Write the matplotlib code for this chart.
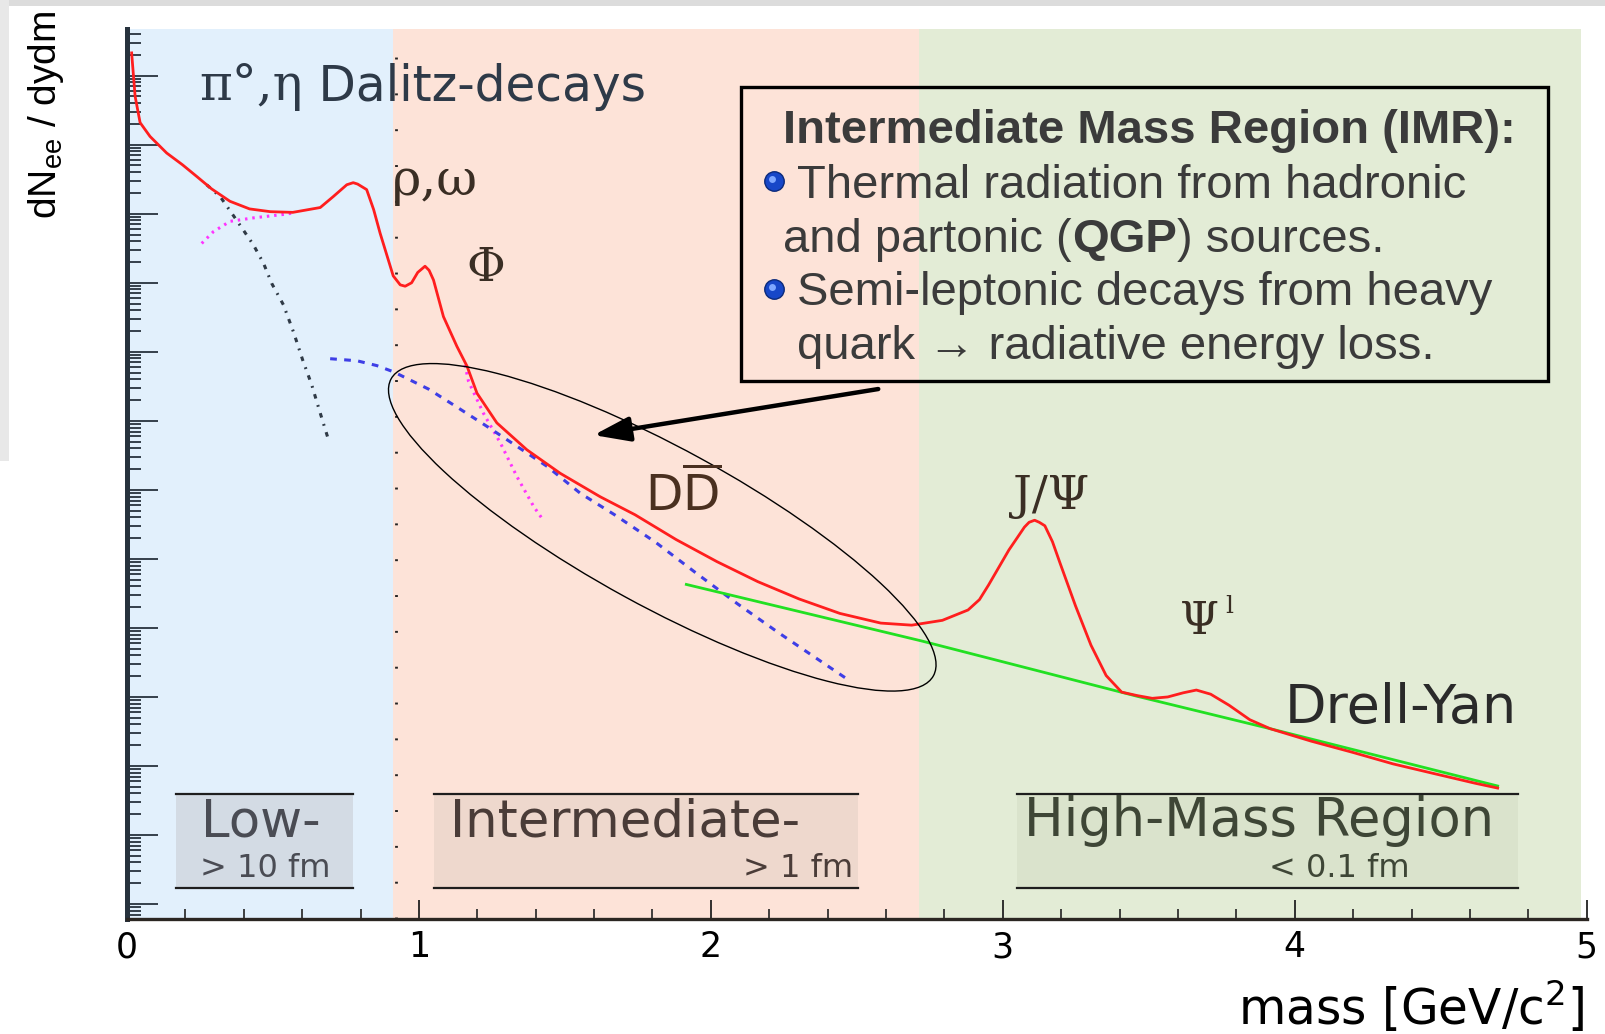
import matplotlib
matplotlib.use('Agg')
import numpy as np
import matplotlib.pyplot as plt
from matplotlib import font_manager
from matplotlib.patches import Rectangle, Ellipse
from matplotlib.lines import Line2D
from matplotlib.ticker import LogLocator, NullFormatter, MultipleLocator

# dilepton mass spectrum
# mass in GeV/c^2, yield given as log10(dN/dydm) in arbitrary units
red_mass = [0.016, 0.028, 0.045, 0.079, 0.136, 0.190, 0.239, 0.290, 0.353, 0.420,
            0.491, 0.568, 0.662, 0.707, 0.753, 0.775, 0.790, 0.821, 0.845, 0.867,
            0.912, 0.936, 0.953, 0.975, 0.996, 1.021, 1.035, 1.050, 1.084, 1.130,
            1.165, 1.199, 1.267, 1.370, 1.484, 1.621, 1.740, 1.881, 2.021, 2.161,
            2.302, 2.442, 2.582, 2.688, 2.793, 2.881, 2.920, 2.951, 3.021, 3.050,
            3.074, 3.090, 3.109, 3.125, 3.144, 3.170, 3.196, 3.249, 3.302, 3.354,
            3.407, 3.460, 3.512, 3.565, 3.618, 3.663, 3.712, 3.775, 3.846, 3.916,
            4.056, 4.196, 4.337, 4.477, 4.618, 4.695]
red_log = [0.33, -0.30, -0.68, -0.88, -1.12, -1.29, -1.46, -1.64, -1.82, -1.93,
           -1.97, -1.98, -1.91, -1.75, -1.58, -1.55, -1.57, -1.65, -1.94, -2.28,
           -2.90, -3.03, -3.05, -3.00, -2.85, -2.76, -2.82, -2.96, -3.49, -3.92,
           -4.21, -4.60, -5.03, -5.42, -5.76, -6.10, -6.36, -6.72, -7.04, -7.33,
           -7.58, -7.79, -7.93, -7.96, -7.89, -7.74, -7.59, -7.38, -6.87, -6.69,
           -6.54, -6.47, -6.44, -6.47, -6.52, -6.75, -7.06, -7.68, -8.25, -8.69,
           -8.93, -8.98, -9.02, -9.00, -8.94, -8.90, -8.96, -9.12, -9.33, -9.46,
           -9.64, -9.80, -9.97, -10.11, -10.25, -10.32]

dy_mass = [1.916, 2.723, 3.460, 3.916, 4.695]
dy_log = [-7.37, -8.19, -8.99, -9.46, -10.29]

dd_mass = [0.696, 0.788, 0.856, 0.913, 1.033, 1.130, 1.233, 1.336, 1.439, 1.553,
           1.670, 1.811, 1.951, 2.091, 2.232, 2.372, 2.470]
dd_log = [-4.10, -4.13, -4.20, -4.29, -4.54, -4.80, -5.08, -5.37, -5.66, -6.05,
          -6.36, -6.76, -7.21, -7.65, -8.07, -8.47, -8.75]

therm_hi_mass = [1.158, 1.170, 1.221, 1.279, 1.336, 1.393, 1.421]
therm_hi_log = [-4.19, -4.43, -4.89, -5.32, -5.81, -6.24, -6.41]

therm_lo_mass = [0.256, 0.296, 0.353, 0.433, 0.536, 0.568]
therm_lo_log = [-2.43, -2.26, -2.11, -2.06, -2.01, -1.99]

dalitz_mass = [0.273, 0.319, 0.375, 0.433, 0.468, 0.496, 0.536, 0.571, 0.602,
               0.633, 0.660, 0.687]
dalitz_log = [-1.58, -1.75, -2.09, -2.45, -2.72, -3.01, -3.32, -3.72, -4.12,
              -4.48, -4.86, -5.23]

region_edges = [(0.0, 0.912), (0.912, 2.712), (2.712, 4.98)]
region_colors = ['#E2F0FC', '#FDE3D8', '#E3ECD6']

xticks = [0, 1, 2, 3, 4, 5]
xtick_labels = ['0', '1', '2', '3', '4', '5']

info_title = 'Intermediate Mass Region (IMR):'
info_lines = ['Thermal radiation from hadronic', 'and partonic (', 'QGP', ') sources.',
              'Semi-leptonic decays from heavy', 'quark \u2192 radiative energy loss.']

W, H = 1568, 1010   # reference frame used to place the annotations


def F(x, y):
    return (x / W, 1 - y / H)


fonts = {f.name for f in font_manager.fontManager.ttflist}
if 'Liberation Sans Narrow' in fonts:
    narrow, nsize = 'Liberation Sans Narrow', 41.5
else:
    narrow, nsize = 'Liberation Sans', 34

fig = plt.figure(figsize=(16.05, 10.34), dpi=100)
fig.patch.set_facecolor('white')
fig.add_artist(Rectangle((0, 1 - 6 / H), 1, 6 / H, transform=fig.transFigure,
                         color='#DCDCDC', lw=0))
fig.add_artist(Rectangle((0, 1 - 450 / H), 9 / W, 450 / H, transform=fig.transFigure,
                         color='#E8E8E8', lw=0))

ax = fig.add_axes([0.0791, 0.1110, 0.9095, 0.8612])
ax.set_facecolor('none')
ax.set_yscale('log')

for (x0, x1), c in zip(region_edges, region_colors):
    ax.axvspan(x0, x1, color=c, lw=0, zorder=0)
ax.axvline(0.923, color='#222222', lw=2, linestyle=(0, (0.7, 12.2)), zorder=1)

ax.plot(dalitz_mass, 10 ** np.array(dalitz_log), color='#2f3a46', lw=2.2,
        linestyle=(0, (1.5, 2.2, 0.6, 2.2)), zorder=3)
ax.plot(therm_lo_mass, 10 ** np.array(therm_lo_log), color='#FF33FF', lw=2.2,
        linestyle=(0, (0.8, 1.6)), zorder=3)
ax.plot(therm_hi_mass, 10 ** np.array(therm_hi_log), color='#FF33FF', lw=2.2,
        linestyle=(0, (0.8, 1.6)), zorder=3)
ax.plot(dd_mass, 10 ** np.array(dd_log), color='#3E3EE6', lw=2.2,
        linestyle=(0, (2.2, 2.4)), zorder=3)
ax.plot(dy_mass, 10 ** np.array(dy_log), color='#22E022', lw=2.0, zorder=4)
ax.plot(red_mass, 10 ** np.array(red_log), color='#FF1E1E', lw=2.0, zorder=5,
        solid_joinstyle='round')

ax.set_xlim(0, 5)
ax.set_ylim(10 ** -12.22, 10 ** 0.68)

for s in ('top', 'right'):
    ax.spines[s].set_visible(False)
ax.spines['left'].set_linewidth(3.6)
ax.spines['left'].set_color('#27323d')
ax.spines['bottom'].set_linewidth(2.4)
ax.spines['bottom'].set_color('#2b2622')

ax.set_xticks(xticks)
ax.set_xticklabels(xtick_labels)
ax.xaxis.set_minor_locator(MultipleLocator(0.2))
ax.tick_params(axis='x', which='major', direction='in', length=14, width=1.3,
               color='#222222', labelsize=25, pad=8, labelfontfamily='DejaVu Sans')
ax.tick_params(axis='x', which='minor', direction='in', length=7, width=1.2,
               color='#222222')
ax.yaxis.set_major_locator(LogLocator(base=10, numticks=30))
ax.yaxis.set_minor_locator(LogLocator(base=10, subs=np.arange(2, 10), numticks=30))
ax.yaxis.set_minor_formatter(NullFormatter())
ax.tick_params(axis='y', which='major', direction='in', length=22, width=1.3,
               color='#27323d', labelleft=False)
ax.tick_params(axis='y', which='minor', direction='in', length=10, width=1.3,
               color='#27323d')

# axis titles
fig.text(*F(45, 112), r'dN$_{\mathregular{ee}}$ / dydm', rotation=90, ha='center',
         va='center', fontsize=28, family='Liberation Sans')
fig.text(*F(1548, 1001), r'mass [GeV/c$^{\mathregular{2}}$]', ha='right',
         va='baseline', fontsize=35, family='DejaVu Sans')

# curve labels
lab = '#3a2e24'
g = fig.text(*F(195, 98), '\u03c0\u00b0,\u03b7', fontsize=36, family='DejaVu Serif',
             color='#2e3a48', va='baseline')
fig.add_artist(plt.Annotation(' Dalitz-decays', xy=(1, 0), xycoords=g, ha='left',
                              va='bottom', fontsize=35, color='#2e3a48'))
fig.text(*F(383, 190), '\u03c1,\u03c9', fontsize=36, family='DejaVu Serif',
         color=lab, va='baseline')
fig.text(*F(475, 262), '\u03a6', fontsize=34, family='DejaVu Serif', color=lab,
         ha='center', va='center')
fig.text(*F(668, 483), r'D$\overline{\mathrm{D}}$', fontsize=35, color='#4a3020',
         ha='center', va='center')
fig.text(*F(1027, 485), 'J/\u03a8', fontsize=34, family='DejaVu Serif', color=lab,
         ha='center', va='center')
fig.text(*F(1172, 607), '\u03a8', fontsize=32, family='DejaVu Serif', color=lab,
         ha='center', va='center')
fig.text(*F(1201, 592), 'l', fontsize=18, family='DejaVu Serif', color=lab,
         ha='center', va='center')
fig.text(*F(1255, 706), 'Drell-Yan', fontsize=39, color='#2a2a2a', va='baseline')

# region boxes along the bottom
boxes = [(172, 345, '#D3DBE4'), (424, 838, '#EED8CD'), (994, 1483, '#DAE3CC')]
for x0, x1, c in boxes:
    fig.add_artist(Rectangle(F(x0, 867), (x1 - x0) / W, 91 / H,
                             transform=fig.transFigure, facecolor=c, lw=0))
    for yy in (776, 867):
        fig.add_artist(Line2D([x0 / W, x1 / W], [1 - yy / H] * 2,
                              transform=fig.transFigure, color='#1e1e1e', lw=1.6))
tc = '#4a4c54'
fig.text(*F(196, 817), 'Low-', fontsize=37, color=tc, va='baseline')
fig.text(*F(195, 857), '> 10 fm', fontsize=23, color=tc, va='baseline')
fig.text(*F(440, 817), 'Intermediate-', fontsize=37, color='#4a3c38', va='baseline')
fig.text(*F(833, 857), '> 1 fm', fontsize=23, color='#4a3c38', va='baseline',
         ha='right')
fig.text(*F(1000, 817), 'High-Mass Region', fontsize=38, color='#3e4636',
         va='baseline')
fig.text(*F(1240, 857), '< 0.1 fm', fontsize=23, color='#3e4636', va='baseline')

# IMR info box
fig.add_artist(Rectangle(F(724, 372), (1512 - 724) / W, (372 - 85) / H,
                         transform=fig.transFigure, fill=False, edgecolor='black',
                         lw=2.4))
tx = '#3b3b3b'
kw = dict(fontsize=nsize, family=narrow, color=tx, va='baseline')
fig.text(*F(765, 140), info_title, weight='bold', **kw)
fig.text(*F(779, 193), info_lines[0], **kw)
t1 = fig.text(*F(765, 246), info_lines[1], **kw)
t2 = fig.add_artist(plt.Annotation(info_lines[2], xy=(1, 0), xycoords=t1,
                                   ha='left', va='bottom', fontsize=nsize,
                                   family=narrow, color=tx, weight='bold'))
fig.add_artist(plt.Annotation(info_lines[3], xy=(1, 0), xycoords=t2, ha='left',
                              va='bottom', fontsize=nsize, family=narrow, color=tx))
fig.text(*F(779, 298), info_lines[4], **kw)
fig.text(*F(779, 351), info_lines[5], **kw)
for by in (177, 282):
    bx, byf = F(756, by)
    fig.add_artist(Line2D([bx], [byf], transform=fig.transFigure, marker='o',
                          ms=14, mfc='#1747C8', mec='#0b2a7a', mew=1))
    fig.add_artist(Line2D([bx - 2 / W], [byf + 2 / H], transform=fig.transFigure,
                          marker='o', ms=5, mfc='#7FA8FF', mec='none'))

# ellipse around the charm region and the arrow pointing to it
s = 1.0236 / 100
fig.add_artist(Ellipse((647 * s, (H - 515) * s), 604 * s, 154 * s, angle=-28.7,
                       transform=fig.dpi_scale_trans, fill=False,
                       edgecolor='black', lw=1.0))
fig.add_artist(plt.Annotation('', xy=F(580, 425), xytext=F(858, 380),
                              xycoords='figure fraction',
                              textcoords='figure fraction',
                              arrowprops=dict(arrowstyle='-|>,head_length=2.2,head_width=0.75',
                                              lw=3.2, color='black',
                                              shrinkA=0, shrinkB=0)))

fig.savefig('out.png', dpi=100)
